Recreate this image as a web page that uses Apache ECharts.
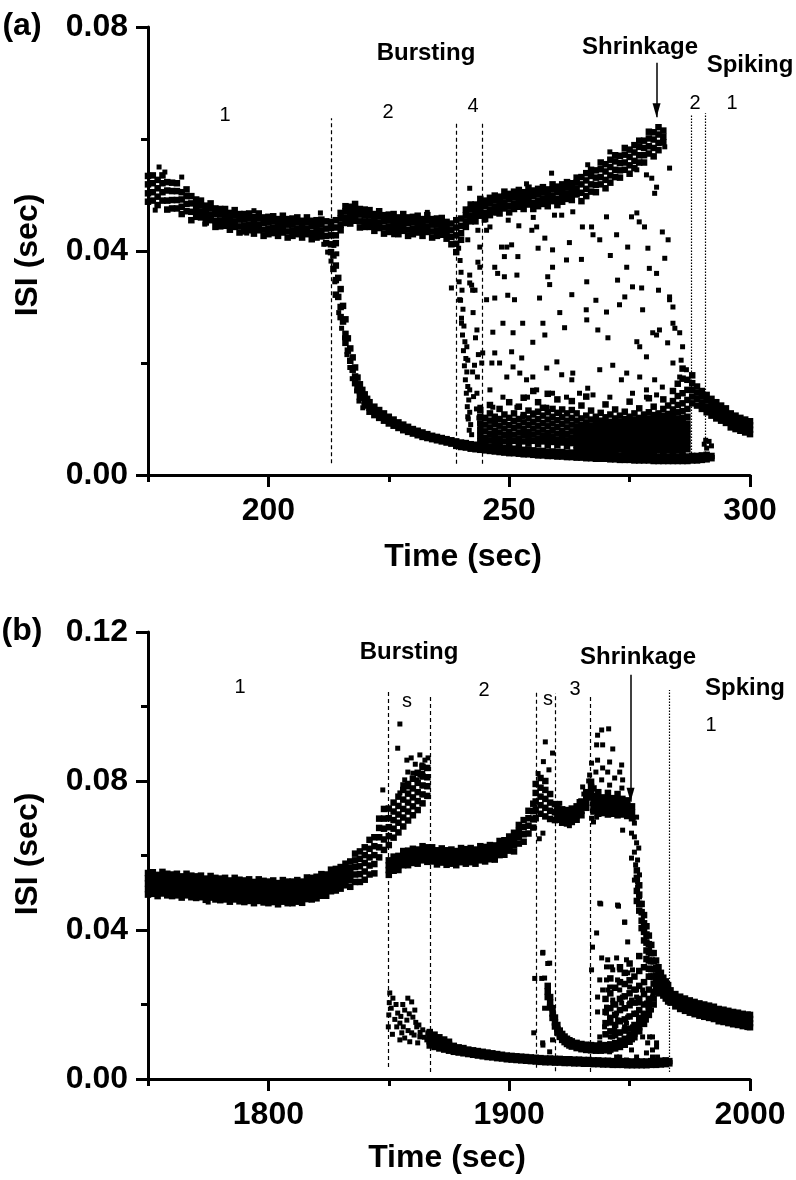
<!DOCTYPE html>
<html><head><meta charset="utf-8">
<script src="https://cdn.jsdelivr.net/npm/echarts@6/dist/echarts.min.js"></script>
<style>html,body{margin:0;padding:0;background:#fff}#c{width:796px;height:1180px}</style>
</head><body><div id="c"></div>
<script>
// ---------------- Panel (a): Time 175-300 s, ISI 0-0.08 s ----------------
// rows: [time, isi, isi, ...]
const aTonic = [
[175,.0488,.0503,.0519,.0534],[176,.0490,.0505,.0521,.0535],[177,.0482,.0497,.0512,.0527],[178,.0490,.0505,.0521,.0535],
[179,.0474,.0490,.0508,.0523],[180,.0476,.0491,.0507,.0522],[181,.0476,.0491,.0507,.0521],[182,.0466,.0479,.0492,.0505],
[183,.0471,.0484,.0498,.0510],[184,.0455,.0470,.0485,.0498],[185,.0461,.0471,.0482,.0492],[186,.0460,.0470,.0481,.0490],
[187,.0451,.0461,.0471,.0481],[188,.0455,.0465,.0476,.0485],[189,.0443,.0454,.0466,.0476],[190,.0444,.0454,.0465,.0475],
[191,.0445,.0455,.0466,.0475],[192,.0438,.0448,.0458,.0468],[193,.0443,.0453,.0464,.0473],[194,.0433,.0444,.0456,.0466],
[195,.0435,.0445,.0456,.0466],[196,.0437,.0447,.0458,.0467],[197,.0431,.0441,.0451,.0461],[198,.0437,.0447,.0458,.0467],
[199,.0427,.0438,.0450,.0460],[200,.0430,.0440,.0451,.0461],[201,.0432,.0442,.0453,.0462],[202,.0427,.0437,.0447,.0457],
[203,.0433,.0443,.0454,.0463],[204,.0424,.0435,.0447,.0457],[205,.0427,.0437,.0448,.0458],[206,.0430,.0440,.0451,.0460],
[207,.0424,.0434,.0444,.0454],[208,.0430,.0440,.0451,.0460],[209,.0421,.0432,.0444,.0454],[210,.0424,.0434,.0445,.0455],
[211,.0426,.0436,.0447,.0456],[212,.0414,.0427,.0440,.0453],[213,.0398,.0412,.0428,.0441,.0452],[214,.0414,.0428,.0442,.0455],
[215,.0437,.0447,.0458,.0468],[216,.0450,.0460,.0471,.0480],[217,.0449,.0459,.0469,.0479],[218,.0454,.0464,.0475,.0484],
[219,.0442,.0453,.0465,.0475],[220,.0443,.0453,.0464,.0474],[221,.0443,.0453,.0464,.0473],[222,.0436,.0446,.0456,.0466],
[223,.0441,.0451,.0462,.0471],[224,.0431,.0442,.0454,.0464],[225,.0434,.0444,.0455,.0465],[226,.0436,.0446,.0457,.0466],
[227,.0430,.0440,.0450,.0460],[228,.0436,.0446,.0457,.0466],[229,.0427,.0438,.0450,.0460],[230,.0430,.0440,.0451,.0461],
[231,.0433,.0443,.0454,.0463],[232,.0427,.0437,.0447,.0457],[233,.0434,.0444,.0455,.0464],[234,.0424,.0435,.0447,.0457],
[235,.0427,.0437,.0448,.0458],[236,.0429,.0439,.0450,.0459],[237,.0422,.0432,.0442,.0452],[238,.0412,.0425,.0437,.0449],
[239,.0398,.0413,.0428,.0442,.0455],[240,.0420,.0432,.0445,.0458],[241,.0443,.0453,.0464,.0474],[242,.0453,.0463,.0474,.0483],
[243,.0453,.0463,.0473,.0483],[244,.0463,.0473,.0484,.0493],[245,.0457,.0468,.0480,.0490],[246,.0464,.0474,.0485,.0495],
[247,.0469,.0479,.0490,.0499],[248,.0467,.0477,.0487,.0497],[249,.0476,.0486,.0497,.0506],[250,.0469,.0480,.0492,.0502],
[251,.0475,.0485,.0496,.0506],[252,.0479,.0489,.0500,.0509],[253,.0475,.0485,.0495,.0505],[254,.0483,.0493,.0504,.0513],
[255,.0475,.0486,.0498,.0508],[256,.0480,.0490,.0501,.0511],[257,.0484,.0494,.0505,.0514],[258,.0480,.0490,.0500,.0510],
[259,.0489,.0499,.0510,.0519],[260,.0482,.0493,.0505,.0515],[261,.0488,.0498,.0509,.0519],[262,.0493,.0503,.0514,.0523],
[263,.0491,.0501,.0511,.0521],[264,.0501,.0511,.0522,.0531],[265,.0489,.0504,.0519,.0532],[266,.0498,.0511,.0526,.0539],
[267,.0506,.0519,.0534,.0545],[268,.0505,.0518,.0531,.0544],[269,.0519,.0532,.0546,.0558],[270,.0512,.0527,.0542,.0555],
[271,.0522,.0535,.0550,.0563],[272,.0532,.0545,.0560,.0571],[273,.0531,.0544,.0557,.0570],[274,.0545,.0558,.0572,.0584],
[275,.0538,.0553,.0568,.0581],[276,.0548,.0561,.0576,.0589],[277,.0558,.0571,.0586,.0597],[278,.0558,.0571,.0584,.0597],
[279,.0574,.0587,.0601,.0613],[280,.0569,.0584,.0599,.0612],[281,.0580,.0593,.0608,.0621],[282,.0594,.0604,.0615]
];
const aBurstLow = [
[213.5,.0392,.0368],[214,.0374,.0348,.0322],[214.5,.0352,.0318],[215,.0332,.0300,.0282],[215.5,.0302,.0274],
[216,.0278,.0252,.0236],[216.5,.0244,.0222],[217,.0226,.0204],[217.5,.0210,.0188],[218,.0192,.0176,.0164],
[218.5,.0174,.0158],[219,.0162,.0150,.0140],[219.5,.0152,.0138],[220,.0144,.0132,.0124],[220.5,.0136,.0126],
[221,.0130,.0120,.0113],[222,.0122,.0114,.0107],[223,.0116,.0109,.0102],[224,.0110,.0103,.0097],[225,.0104,.0098,.0092],
[226,.0099,.0093,.0088],[227,.0094,.0089,.0084],[228,.0090,.0085,.0080],[229,.0086,.0081,.0077],[230,.0082,.0078,.0074],
[231,.0079,.0075,.0071],[232,.0076,.0072,.0068],[233,.0073,.0069,.0066],[234,.0070,.0067,.0064],[235,.0068,.0065,.0062],
[236,.0066,.0063,.0060],[237,.0064,.0061,.0058],[238,.0062,.0059,.0056],
[239,.0052,.0056,.0060],[240,.0050,.0054,.0058],[241,.0049,.0053,.0057],[242,.0047,.0051,.0055],[243,.0046,.0050,.0054],
[244,.0045,.0049,.0053],[245,.0044,.0048,.0052],[246,.0043,.0047,.0051],[247,.0042,.0046,.0050],[248,.0041,.0045,.0049],
[249,.0040,.0044,.0048],[250,.0039,.0043,.0047],[251,.0039,.0043,.0047],[252,.0038,.0042,.0046],[253,.0037,.0041,.0045],
[254,.0037,.0041,.0045],[255,.0036,.0040,.0044],[256,.0035,.0039,.0043],[257,.0035,.0039,.0043],[258,.0034,.0038,.0042],
[259,.0034,.0038,.0042],[260,.0033,.0037,.0041],[261,.0033,.0037,.0041],[262,.0032,.0036,.0040],[263,.0032,.0036,.0040],
[264,.0031,.0035,.0039],[265,.0031,.0035,.0039],[266,.0030,.0034,.0038],[267,.0030,.0034,.0038],[268,.0029,.0033,.0037],
[269,.0029,.0033,.0037],[270,.0029,.0033,.0037],[271,.0028,.0032,.0036],[272,.0028,.0032,.0036],[273,.0027,.0031,.0035],
[274,.0027,.0031,.0035],[275,.0027,.0031,.0035],[276,.0026,.0030,.0034],[277,.0026,.0030,.0034],[278,.0026,.0030,.0034],
[279,.0026,.0030,.0034],[280,.0025,.0029,.0033],[281,.0025,.0029,.0033],[282,.0025,.0029,.0033],[283,.0025,.0029,.0033],
[284,.0025,.0029,.0033],[285,.0025,.0029,.0033],[286,.0025,.0029,.0033],[287,.0025,.0029,.0033],[288,.0026,.0030,.0034],
[289,.0026,.0030,.0034],[290,.0027,.0031,.0035],[291,.0028,.0032,.0036],[292,.0030,.0034]
];
const aCloud = [
[244,.0060,.0070,.0080,.0092,.0104,.0116],[245,.0056,.0066,.0078,.0090,.0102],[246,.0062,.0073,.0085,.0097,.0110,.0125],
[247,.0058,.0068,.0079,.0091,.0104],[248,.0055,.0065,.0076,.0088,.0100,.0118],[249,.0060,.0071,.0083,.0095,.0108],
[250,.0056,.0066,.0077,.0089,.0102,.0130],[251,.0061,.0072,.0084,.0096,.0110],[252,.0055,.0065,.0076,.0088,.0100,.0122],
[253,.0060,.0071,.0082,.0094,.0107,.0138],[254,.0056,.0066,.0077,.0089,.0101,.0115],[255,.0061,.0072,.0083,.0095,.0108,.0150],
[256,.0055,.0065,.0076,.0088,.0100,.0113,.0130],[257,.0060,.0070,.0081,.0093,.0106,.0120],
[258,.0054,.0064,.0075,.0087,.0099,.0112,.0145],[259,.0059,.0069,.0080,.0092,.0104,.0118],
[260,.0053,.0063,.0074,.0086,.0098,.0111,.0135],[261,.0058,.0068,.0079,.0091,.0103,.0117],
[262,.0052,.0062,.0073,.0085,.0097,.0110],[263,.0057,.0067,.0078,.0090,.0102,.0116,.0132],
[264,.0045,.0053,.0061,.0069,.0077,.0086,.0097,.0110],[265,.0048,.0056,.0064,.0072,.0080,.0089,.0101,.0124],
[266,.0045,.0053,.0061,.0069,.0077,.0085,.0094,.0106,.0140],[267,.0047,.0055,.0063,.0071,.0079,.0088,.0099,.0115],
[268,.0044,.0052,.0060,.0068,.0076,.0084,.0093,.0104],[269,.0047,.0055,.0063,.0071,.0079,.0087,.0097,.0111],
[270,.0044,.0052,.0060,.0068,.0076,.0084,.0093,.0103,.0126],[271,.0046,.0054,.0062,.0070,.0078,.0086,.0095,.0108],
[272,.0043,.0051,.0059,.0067,.0075,.0083,.0092,.0101,.0117],[273,.0046,.0054,.0062,.0070,.0078,.0086,.0095,.0106],
[274,.0043,.0051,.0059,.0067,.0075,.0083,.0091,.0100,.0113],[275,.0045,.0053,.0061,.0069,.0077,.0085,.0094,.0104,.0131],
[276,.0043,.0051,.0059,.0067,.0075,.0083,.0091,.0099,.0110],[277,.0045,.0053,.0061,.0069,.0077,.0085,.0093,.0102,.0119],
[278,.0042,.0050,.0058,.0066,.0074,.0082,.0090,.0098,.0108],[279,.0045,.0053,.0061,.0069,.0077,.0085,.0093,.0101,.0112,.0137],
[280,.0042,.0050,.0058,.0066,.0074,.0082,.0090,.0098,.0107,.0122],[281,.0044,.0052,.0060,.0068,.0076,.0084,.0092,.0100,.0110],
[282,.0042,.0050,.0058,.0066,.0074,.0082,.0090,.0098,.0106,.0118,.0135],[283,.0044,.0052,.0060,.0068,.0076,.0084,.0092,.0100,.0109,.0124],
[284,.0042,.0050,.0058,.0066,.0074,.0082,.0090,.0098,.0107,.0117,.0132,.0150],
[285,.0044,.0052,.0060,.0068,.0076,.0084,.0092,.0101,.0112,.0125,.0141,.0163],
[286,.0043,.0051,.0059,.0067,.0075,.0083,.0092,.0102,.0114,.0128,.0146,.0172,.0190],
[287,.0046,.0055,.0064,.0073,.0082,.0092,.0104,.0118,.0134,.0152,.0170]
];
const aSpiking = [
[288,.0128,.0140,.0152,.0164,.0178],[289,.0124,.0136,.0147,.0158],[290,.0118,.0129,.0140,.0150],[291,.0112,.0122,.0133,.0143],
[292,.0106,.0116,.0126,.0136],[293,.0101,.0111,.0121,.0130],[294,.0097,.0106,.0115,.0124],[295,.0093,.0102,.0111,.0119],
[296,.0085,.0094,.0102,.0110],[297,.0082,.0090,.0098,.0106],[298,.0079,.0087,.0095,.0102],[299,.0076,.0084,.0092,.0099],
[300,.0073,.0081,.0089,.0096]
];
// single points: [time, isi]
const aScatter = [
[177.3,.0550],[176.5,.0473],[182,.0532],[178.5,.0541],[186.8,.0448],[195.5,.0432],[197,.0472],[211.5,.0412],[212.3,.0398],
[213,.0382],[210.8,.0468],[226,.0429],[233,.0469],
[213.6,.0410],[214.2,.0395],[213.8,.0345],[214.6,.0290],[215.2,.0262],[215.8,.0245],[216.3,.0215],[216.9,.0192],[217.4,.0172],
[218.3,.0150],[218.8,.0132],[219.6,.0120],
[239.5,.0405],[239.8,.0383],[240,.0362],[239.6,.0345],[240.2,.0330],[239.9,.0312],[240.4,.0296],[240.1,.0280],[240.6,.0266],
[240.3,.0250],[240.8,.0238],[240.5,.0222],[241,.0208],[240.7,.0195],[241.2,.0184],[240.9,.0170],[241.4,.0158],[241.1,.0146],
[241.6,.0134],[241.3,.0122],[241.8,.0112],[241.5,.0100],[242,.0090],[241.7,.0080],[242.2,.0072],[242.5,.0290],[243,.0245],
[242.8,.0196],[243.4,.0175],[242.6,.0140],[243.2,.0118],[243.7,.0102],[244,.0086],[242.9,.0330],[243.6,.0215],
[241.8,.0512],[241.4,.0420],[243.5,.0437],[243.9,.0407],[243.5,.0380],[243.9,.0371],[245.3,.0437],[246,.0443],[247.4,.0468],
[248.4,.0407],[249.5,.0407],[250.5,.0411],[249,.0390],[247,.0371],[247.6,.0360],[249,.0354],[251.6,.0357],[251.8,.0390],
[241.8,.0357],[241.8,.0343],[242.4,.0330],[253.6,.0520],[254.7,.0437],[255.7,.0443],[256,.0405],[257.4,.0423],[258.8,.0539],
[258,.0354],[258.4,.0340],[259,.0371],[259,.0402],[259.4,.0464],[260.9,.0464],[261.9,.0384],[263.2,.0470],[265.2,.0443],
[266.3,.0554],[267.1,.0443],[267.4,.0429],[268.8,.0420],[266.1,.0345],[270.2,.0461],[270.9,.0577],[272.3,.0429],[274.6,.0407],
[274.4,.0371],[275.4,.0461],[276.5,.0468],[277,.0452],[278.1,.0443],[276.5,.0545],[278.5,.0536],[279.6,.0530],[280.6,.0514],
[280.2,.0503],[281.8,.0434],[282.3,.0387],[279.1,.0369],[280.6,.0360],[283.3,.0548],[282.3,.0586],[275.6,.0336],[277.5,.0334],
[283.3,.0318],[272.5,.0348],[263,.0322],[268,.0312],[274,.0318],[281,.0330],[265,.0385],[271,.0392],[278.8,.0405],[283,.0420],
[262.5,.0415],[255,.0460],[252,.0445],[249.8,.0455],[244.8,.0455],
[238,.0334],[242.2,.0339],[239.7,.0313],[245.3,.0313],[247,.0316],[249.7,.0321],[251.1,.0313],[256.3,.0316],[260.5,.0290],
[266,.0295],[270.2,.0291],[272.9,.0304],[277.7,.0295],[240.1,.0271],[243.3,.0259],[246.6,.0255],[248.7,.0271],[250.8,.0254],
[252.8,.0271],[254.9,.0237],[257,.0271],[257.4,.0250],[261.5,.0263],[266.1,.0277],[268.4,.0259],[270.5,.0245],[276.5,.0238],
[279.8,.0254],[281.2,.0259],[283.3,.0313],[284,.0300],[284,.0271],[284.4,.0262],[277.1,.0229],[278.5,.0211],[280.6,.0250],
[282.9,.0236],[285.4,.0254],[286,.0229],[241.2,.0229],[241.4,.0205],[242.4,.0184],[244.3,.0200],[244.5,.0218],[247,.0218],
[246.4,.0200],[248,.0200],[250.5,.0220],[250.8,.0193],[252.6,.0209],[249.5,.0175],[252.2,.0182],[253.6,.0170],[254.9,.0175],
[257.8,.0191],[259.9,.0202],[260.9,.0179],[263,.0170],[263.2,.0182],[266.3,.0155],[268.8,.0188],[271.5,.0196],[274.4,.0182],
[273.3,.0170],[277.1,.0175],[278.5,.0152],[280.2,.0170],[281.8,.0157],[284,.0200],[285.4,.0175],[285.7,.0205],[286.8,.0188],
[241.8,.0152],[243.3,.0146],[246,.0152],[243.9,.0121],[246.6,.0121],[248.7,.0139],[251.6,.0121],[253.8,.0139],[255.7,.0152],
[259,.0146],[261.9,.0139],[264.6,.0146],[267.4,.0143],[270.9,.0139],[275.6,.0146],[278.5,.0139],[280.6,.0143],[241.4,.0104],
[243.9,.0093],[247,.0098],[250.8,.0098],[252.8,.0104],[254.9,.0111],[257.8,.0121],[260.5,.0111],
[290.5,.0055],[291,.0048],[291.5,.0060],[292,.0052],[290.8,.0062]
];
// phase boundaries: [time, isi bottom, isi top]
const aDashLines = [[213.0,.0021,.0637],[239.1,.0020,.0632],[244.5,.0020,.0630]];
const aDotLines = [[287.7,.0023,.0643],[290.8,.0023,.0646]];
const aArrow = [280.6,.0736,.0639];

// ---------------- Panel (b): Time 1750-2000 s, ISI 0-0.12 s ----------------
const bTonic = [
[1750,.0495,.0510,.0525,.0539,.0553],[1752,.0497,.0512,.0526,.0540,.0555],[1754,.0491,.0506,.0520,.0534,.0548],
[1756,.0498,.0513,.0528,.0542,.0556],[1758,.0493,.0508,.0523,.0537,.0551],[1760,.0491,.0506,.0521,.0535,.0549],
[1762,.0493,.0508,.0522,.0536,.0551],[1764,.0487,.0502,.0516,.0530,.0544],[1766,.0493,.0508,.0523,.0537,.0551],
[1768,.0488,.0503,.0518,.0532,.0546],[1770,.0486,.0501,.0516,.0530,.0544],[1772,.0488,.0503,.0517,.0531,.0546],
[1774,.0481,.0496,.0510,.0524,.0538],[1776,.0487,.0502,.0517,.0531,.0545],[1778,.0482,.0497,.0512,.0526,.0540],
[1780,.0480,.0495,.0510,.0524,.0538],[1782,.0482,.0497,.0511,.0525,.0540],[1784,.0476,.0491,.0505,.0519,.0533],
[1786,.0482,.0497,.0512,.0526,.0540],[1788,.0477,.0492,.0507,.0521,.0535],[1790,.0475,.0490,.0505,.0519,.0533],
[1792,.0478,.0493,.0507,.0521,.0536],[1794,.0472,.0487,.0501,.0515,.0529],[1796,.0478,.0493,.0508,.0522,.0536],
[1798,.0474,.0489,.0504,.0518,.0532],[1800,.0472,.0487,.0502,.0516,.0530],[1802,.0475,.0490,.0504,.0518,.0533],
[1804,.0469,.0484,.0498,.0512,.0526],[1806,.0476,.0491,.0506,.0520,.0534],[1808,.0472,.0487,.0502,.0516,.0530],
[1810,.0472,.0487,.0502,.0516,.0530],[1812,.0476,.0491,.0505,.0519,.0534],[1814,.0473,.0488,.0502,.0516,.0530],
[1816,.0483,.0498,.0513,.0527,.0541],[1818,.0482,.0497,.0512,.0526,.0540],[1820,.0485,.0500,.0515,.0529,.0543],
[1822,.0492,.0507,.0521,.0535,.0550],[1824,.0492,.0507,.0521,.0535,.0549],[1826,.0504,.0519,.0534,.0548,.0562],
[1828,.0506,.0521,.0536,.0550,.0564],[1830,.0511,.0526,.0541,.0555,.0569],[1832,.0520,.0535,.0549,.0563,.0578],
[1834,.0516,.0534,.0550,.0567,.0584],[1836,.0529,.0549,.0569,.0587,.0605],[1838,.0529,.0550,.0571,.0591,.0611],
[1840,.0535,.0557,.0580,.0601,.0622],[1842,.0549,.0573,.0595,.0618,.0642],[1844,.0552,.0577,.0601,.0625,.0649],
[1846,.0595,.0622,.0649,.0674,.0699],[1848,.0615,.0643,.0672,.0699,.0725]
];
const bBurstS1 = [
[1850,.0628,.0652,.0676,.0700,.0726],[1852,.0648,.0672,.0695,.0718,.0742],[1854,.0662,.0688,.0710,.0733,.0758],
[1856,.0678,.0702,.0725,.0750,.0776],[1858,.0694,.0718,.0742,.0766,.0792],[1860,.0708,.0732,.0756,.0780,.0806],
[1862,.0722,.0746,.0770,.0795,.0822],[1864,.0740,.0764,.0788,.0812,.0838],[1866,.0760,.0786,.0810,.0835]
];
const bBurst2 = [
[1850,.0548,.0561,.0574,.0587],[1852,.0559,.0572,.0585,.0597],[1854,.0561,.0574,.0587,.0599],[1856,.0574,.0587,.0600,.0612],
[1858,.0574,.0587,.0600,.0613],[1860,.0580,.0593,.0606,.0618],[1862,.0578,.0591,.0604,.0616],[1864,.0587,.0600,.0613,.0625],
[1866,.0583,.0596,.0609,.0622],[1868,.0584,.0597,.0610,.0622],[1870,.0576,.0589,.0602,.0614],[1872,.0581,.0594,.0607,.0619],
[1874,.0575,.0588,.0601,.0614],[1876,.0578,.0591,.0604,.0616],[1878,.0574,.0587,.0600,.0612],[1880,.0582,.0595,.0608,.0620],
[1882,.0578,.0591,.0604,.0617],[1884,.0582,.0595,.0608,.0620],[1886,.0578,.0591,.0604,.0616],[1888,.0587,.0600,.0613,.0625],
[1890,.0584,.0597,.0610,.0623],[1892,.0590,.0603,.0616,.0628],[1894,.0589,.0602,.0615,.0627],[1896,.0601,.0614,.0627,.0639],
[1898,.0602,.0615,.0628,.0641],[1900,.0613,.0626,.0639,.0651],[1902,.0611,.0628,.0645,.0661],[1904,.0632,.0649,.0666,.0682],
[1906,.0637,.0657,.0676,.0695],[1908,.0659,.0680,.0700,.0720],[1910,.0675,.0697,.0719,.0739]
];
const bBurstS2 = [
[1911,.0700,.0722,.0745,.0768,.0792],[1913,.0712,.0735,.0758,.0782,.0808],[1915,.0705,.0728,.0752,.0776,.0800],
[1917,.0698,.0720,.0742,.0765],[1919,.0695,.0716,.0738]
];
const bBurst3 = [
[1920,.0696,.0708,.0720,.0732],[1922,.0688,.0700,.0712,.0724],[1924,.0686,.0698,.0710,.0722],[1926,.0690,.0702,.0714,.0726],
[1928,.0696,.0708,.0720,.0732],[1930,.0708,.0720,.0732,.0745],[1932,.0728,.0742,.0756,.0770],[1934,.0756,.0770,.0784,.0798],
[1935,.0718,.0732,.0746,.0760,.0780],[1937,.0712,.0726,.0740,.0754,.0770],[1939,.0714,.0728,.0742,.0756],
[1941,.0710,.0724,.0738,.0752,.0768],[1943,.0712,.0726,.0740,.0754],[1945,.0708,.0722,.0736,.0750,.0765],
[1947,.0710,.0724,.0738,.0752],[1949,.0706,.0720,.0734,.0748],[1951,.0700,.0716,.0732]
];
const bShrink = [
[1953,.0560,.0540,.0505,.0478],[1954,.0520,.0495,.0470,.0452],[1955,.0470,.0448,.0425,.0405],[1956,.0440,.0418,.0395,.0372],
[1957,.0410,.0388,.0366,.0345,.0322],[1958,.0385,.0362,.0340,.0318,.0296],[1959,.0360,.0338,.0316,.0295,.0275],
[1960,.0338,.0316,.0295,.0275,.0256],[1961,.0318,.0298,.0278,.0260,.0242],[1962,.0300,.0281,.0263,.0246,.0230],
[1963,.0285,.0267,.0250,.0234],[1964,.0272,.0255,.0239,.0224],[1965,.0262,.0245,.0230,.0216],[1966,.0252,.0237,.0222,.0208]
];
const bSpiking = [
[1967,.0205,.0216,.0227,.0238],[1969,.0195,.0206,.0217,.0228],[1971,.0188,.0199,.0210,.0221],[1973,.0183,.0194,.0205,.0216],
[1975,.0178,.0189,.0200,.0211],[1977,.0174,.0185,.0196,.0207],[1979,.0170,.0181,.0192,.0203],[1981,.0167,.0178,.0189,.0200],
[1983,.0164,.0175,.0186,.0197],[1985,.0161,.0172,.0183,.0194],[1987,.0155,.0166,.0177,.0188],[1989,.0153,.0164,.0175,.0186],
[1991,.0150,.0161,.0172,.0183],[1993,.0147,.0158,.0169,.0180],[1995,.0145,.0156,.0167,.0178],[1997,.0142,.0153,.0164,.0175],
[1999,.0140,.0151,.0162,.0173],[2000,.0139,.0150,.0161,.0172]
];
const bBurstLow = [
[1867,.0090,.0102,.0114,.0126],[1869,.0086,.0097,.0108,.0119],[1871,.0082,.0092,.0102,.0112],[1873,.0079,.0088,.0097,.0106],
[1875,.0076,.0084,.0092,.0100],[1877,.0073,.0081,.0089],[1879,.0071,.0078,.0085],[1881,.0069,.0076,.0083],[1883,.0067,.0073,.0079],
[1885,.0065,.0071,.0077],[1887,.0063,.0069,.0075],[1889,.0061,.0067,.0073],[1891,.0059,.0065,.0071],[1893,.0058,.0063,.0069],
[1895,.0056,.0062,.0067],[1897,.0055,.0060,.0065],[1899,.0053,.0058,.0063],[1901,.0052,.0057,.0062],[1903,.0051,.0056,.0061],
[1905,.0050,.0055,.0060],[1907,.0049,.0054,.0059],[1909,.0048,.0053,.0058],[1911,.0047,.0052,.0057],[1913,.0046,.0051,.0056],
[1915,.0045,.0050,.0055],[1917,.0045,.0050,.0055],[1919,.0044,.0049,.0054],[1921,.0044,.0049,.0054],[1923,.0043,.0048,.0053],
[1925,.0043,.0048,.0053],[1927,.0042,.0047,.0052],[1929,.0042,.0047,.0052],[1931,.0041,.0046,.0051],[1933,.0041,.0046,.0051],
[1935,.0040,.0045,.0050],[1937,.0040,.0045,.0050],[1939,.0039,.0044,.0049],[1941,.0039,.0044,.0049],[1943,.0038,.0043,.0048],
[1945,.0038,.0043,.0048],[1947,.0038,.0043,.0048],[1949,.0037,.0042,.0047],[1951,.0037,.0042,.0047],[1953,.0037,.0042,.0047],
[1955,.0037,.0042,.0047],[1957,.0037,.0042,.0047],[1959,.0038,.0043,.0048],[1961,.0038,.0043,.0048],[1963,.0039,.0044,.0049],
[1965,.0040,.0045,.0050],[1966.5,.0042,.0048]
];
const bBurstU = [
[1916,.0250,.0235,.0220],[1917,.0220,.0205,.0192],[1918,.0190,.0176,.0164],[1919,.0165,.0152,.0141],[1920,.0145,.0134,.0125],
[1921,.0130,.0121,.0113],[1922,.0121,.0112,.0105],[1923,.0114,.0106,.0099],[1924,.0108,.0101,.0094],[1925,.0104,.0097,.0090],
[1926,.0101,.0094,.0087],[1928,.0097,.0090,.0083],[1930,.0094,.0087,.0080],[1932,.0092,.0085,.0078],[1934,.0091,.0084,.0077],
[1936,.0090,.0083,.0076],[1938,.0090,.0083,.0076],[1940,.0091,.0084,.0077],[1942,.0093,.0086,.0079],[1944,.0096,.0089,.0082],
[1946,.0101,.0093,.0086],[1948,.0108,.0100,.0092],[1950,.0118,.0109,.0100],[1952,.0132,.0122,.0112],[1954,.0150,.0139,.0128],
[1956,.0174,.0160,.0148],[1958,.0202,.0186,.0172],[1960,.0234,.0216,.0200]
];
const bCloud = [
[1940,.0120,.0150,.0180,.0215],[1942,.0128,.0160,.0190,.0230,.0270],[1944,.0118,.0145,.0172,.0200,.0245],
[1946,.0125,.0155,.0185,.0215,.0260,.0300],[1948,.0130,.0160,.0190,.0222,.0255,.0285],[1950,.0135,.0168,.0198,.0230,.0265,.0310],
[1952,.0145,.0175,.0205,.0240,.0275],[1954,.0160,.0185,.0215,.0250,.0290,.0330],[1956,.0175,.0200,.0228,.0260,.0300],
[1958,.0195,.0215,.0240,.0275]
];
const bScatter = [
[1775,.0475],[1847.5,.0776],[1854.6,.0953],[1853.7,.0888],[1857.5,.0856],[1857.9,.0824],[1860,.0821],[1862.9,.0870],
[1865,.0856],[1862.9,.0816],[1864.1,.0821],[1856.6,.0803],[1861.6,.0803],[1858,.0784],[1854.6,.0768],[1859.3,.0862],
[1863.8,.0843],[1861,.0845],[1866.3,.0862],[1855.8,.0790],
[1850.4,.0231],[1851.7,.0217],[1850,.0172],[1853.7,.0177],[1854.6,.0150],[1855.4,.0124],[1856.6,.0185],[1857.9,.0217],
[1859.5,.0207],[1857.5,.0158],[1860,.0166],[1861.6,.0140],[1859.5,.0124],[1862.9,.0113],[1864.1,.0132],[1865.8,.0105],
[1866.2,.0124],[1856.6,.0110],[1854.6,.0105],[1853.3,.0140],[1862,.0097],[1858.7,.0100],[1850.2,.0205],[1851,.0190],
[1852.5,.0160],[1855,.0168],[1856,.0140],[1858,.0130],[1860.5,.0118],[1861.2,.0152],[1863,.0125],[1864.8,.0112],
[1866.8,.0098],[1851.5,.0120],[1849.8,.0140],[1853,.0200],[1855.8,.0200],[1858.5,.0175],[1860.8,.0185],[1862.5,.0145],
[1915,.0905],[1918,.0875],[1914,.0660],[1912.5,.0645],[1916.5,.0830],[1914.2,.0852],[1912,.0820],
[1921,.0740],[1925,.0680],[1929,.0745],[1931,.0765],[1933,.0800],
[1938.4,.0937],[1941.3,.0940],[1936.7,.0923],[1938.8,.0897],[1936.3,.0897],[1943,.0886],[1936.7,.0856],[1941.7,.0851],
[1934.2,.0848],[1946.7,.0843],[1938.8,.0835],[1936,.0824],[1940.9,.0824],[1943.8,.0808],[1945.9,.0824],[1933.4,.0816],
[1938.4,.0803],[1941.7,.0789],[1947.1,.0803],[1930.5,.0784],[1946.8,.0781],[1934.2,.0700],[1936.3,.0703],[1935,.0690],
[1947.1,.0668],
[1950.8,.0660],[1952,.0687],[1952.9,.0703],[1952,.0650],[1952.9,.0634],[1952,.0609],[1950.8,.0593],[1953.3,.0588],
[1954.1,.0548],[1953.3,.0529],[1952,.0534],[1953.3,.0515],[1954.1,.0489],[1955,.0446],[1956.2,.0400],[1957,.0381],
[1958.3,.0346],[1959.5,.0320],[1961.6,.0293],[1963.7,.0266],[1965.3,.0247],[1951.5,.0700],[1950,.0715],[1953.8,.0620],
[1952.5,.0575],
[1913.9,.0338],[1916.8,.0311],[1914.7,.0271],[1914.7,.0190],[1913.9,.0097],[1916.8,.0073],[1918,.0105],[1910.6,.0270],
[1910.2,.0124],[1914,.0340],[1913.5,.0270],[1916,.0310],[1914,.0091],
[1938,.0470],[1945.4,.0464],[1947.9,.0421],[1936.3,.0392],[1949.2,.0368],[1934.6,.0354],[1938.4,.0325],[1940.9,.0320],
[1944.6,.0325],[1942.5,.0301],[1948.7,.0320],[1945.9,.0293],[1934.2,.0293],[1937.6,.0266],[1940.4,.0266],[1945,.0266],
[1949.2,.0285],[1938.8,.0239],[1941.7,.0247],[1945.9,.0239],[1950,.0247],[1952.9,.0239],[1936.7,.0220],[1936.7,.0180],
[1940.4,.0193],[1943,.0212],[1946.7,.0204],[1950.8,.0212],[1954.1,.0204],[1941.7,.0166],[1945,.0158],[1949.2,.0166],
[1952.9,.0177],[1939.6,.0140],[1943.8,.0132],[1947.9,.0140],[1954.1,.0132],[1957,.0158],[1937.6,.0113],[1942,.0113],
[1946,.0123],[1958.3,.0113],[1939.6,.0083],[1957.5,.0097],[1961.2,.0086],[1950.8,.0078],[1944.6,.0059],[1948.7,.0051],
[1952.9,.0059],[1957,.0070],[1959.5,.0059],[1937.6,.0472],[1945,.0467],[1940.4,.0301],[1943,.0293],[1948,.0421],
[1951.2,.0293],[1940.9,.0239],[1943,.0204],[1944.6,.0177],[1947,.0220],[1950,.0204],[1952.9,.0220],[1955.4,.0239],
[1957,.0204],[1959.1,.0185],[1959.5,.0220],[1940.4,.0177],[1941.7,.0150],[1945.9,.0158],[1948.7,.0150],[1951.2,.0140],
[1954.1,.0166],[1943,.0113],[1945.9,.0105],[1951.2,.0105],[1955.4,.0113],[1959.5,.0113],[1961.2,.0097],[1937.6,.0097],
[1941.7,.0073],[1945.9,.0059],[1961.6,.0059],[1959.5,.0078]
];
const bDashLines = [[1849.6,.0032,.1044],[1867.4,.0019,.1031],[1911.4,.0030,.1044],[1919.3,.0021,.1036],[1933.8,.0019,.1031]];
const bDotLines = [[1966.6,.0019,.1044]];
const bArrow = [1950.4,.1085,.0744];

// axis ticks / labels
const aXRange = [175, 300], aXLabels = [200, 250, 300], aXMinor = [175, 225, 275];
const bXRange = [1750, 2000], bXLabels = [1800, 1900, 2000], bXMinor = [1750, 1850, 1950];
const aYMax = 0.08, bYMax = 0.12, yStep = 0.04;

// ---------------- chart ----------------
const FONT = "'Liberation Sans', Arial, Helvetica, sans-serif";
function expand(rows) { const out = []; rows.forEach(r => { for (let i = 1; i < r.length; i++) out.push([r[0], r[i]]); }); return out; }
function vLines(list, dash) {
  return list.map(d => [{ coord: [d[0], d[1]], lineStyle: { type: dash, width: 1.2, color: '#000' } }, { coord: [d[0], d[2]] }]);
}
const tickStyle = { color: '#000', width: 3 };
function xMain(g, r, labels) {
  return { type: 'value', gridIndex: g, min: r[0], max: r[1], position: 'bottom',
    axisLine: { show: true, onZero: false, lineStyle: tickStyle },
    axisTick: { show: true, customValues: labels, length: 12, lineStyle: tickStyle },
    axisLabel: { customValues: labels, margin: 20, color: '#000', fontFamily: FONT, fontWeight: 'bold', fontSize: 32, formatter: v => String(v) },
    splitLine: { show: false } };
}
function xMinor(g, r, ticks) {
  return { type: 'value', gridIndex: g, min: r[0], max: r[1], position: 'bottom',
    axisLine: { show: false, onZero: false }, axisTick: { show: true, customValues: ticks, length: 7, lineStyle: tickStyle },
    axisLabel: { show: false }, splitLine: { show: false } };
}
function yAx(g, max) {
  return { type: 'value', gridIndex: g, min: 0, max: max, interval: yStep,
    axisLine: { show: true, onZero: false, lineStyle: tickStyle },
    axisTick: { show: true, length: 12, lineStyle: tickStyle },
    minorTick: { show: true, splitNumber: 2, length: 7, lineStyle: tickStyle },
    axisLabel: { margin: 20, color: '#000', fontFamily: FONT, fontWeight: 'bold', fontSize: 32, formatter: v => v.toFixed(2) },
    splitLine: { show: false }, minorSplitLine: { show: false } };
}
function dense(xi, yi, data) {
  return { type: 'scatter', xAxisIndex: xi, yAxisIndex: yi, data: data, symbol: 'rect', symbolSize: 6.5,
    itemStyle: { color: '#000', opacity: 1 }, silent: true, progressive: 0, animation: false };
}
function sparse(xi, yi, data, dashes, dots, arrow) {
  return { type: 'scatter', xAxisIndex: xi, yAxisIndex: yi, data: data, symbol: 'rect', symbolSize: 5,
    itemStyle: { color: '#000', opacity: 1 }, silent: true, progressive: 0, animation: false,
    markLine: { silent: true, symbol: ['none', 'none'], label: { show: false }, animation: false,
      data: vLines(dashes, [4, 3]).concat(vLines(dots, [1.5, 1.5])).concat([[
        { coord: [arrow[0], arrow[1]], lineStyle: { type: 'solid', width: 1.5, color: '#000' } }, { coord: [arrow[0], arrow[2]] }]]) },
    markPoint: { silent: true, animation: false, symbol: 'triangle', symbolSize: [8, 14], symbolRotate: 180,
      itemStyle: { color: '#000', opacity: 1 }, label: { show: false },
      data: [{ coord: [arrow[0], arrow[2]], symbolOffset: [0, -7] }] } };
}
function txt(s, x, y, font, rot) {
  return { type: 'text', x: x, y: y, rotation: rot || 0, silent: true,
    style: { text: s, fill: '#000', font: font + ' ' + FONT, align: 'center', verticalAlign: 'middle' } };
}
const chart = echarts.init(document.getElementById('c'), null, { renderer: 'canvas' });
chart.setOption({
  animation: false,
  backgroundColor: '#fff',
  grid: [{ left: 148, top: 27, width: 602, height: 448 }, { left: 148, top: 632, width: 602, height: 447 }],
  xAxis: [xMain(0, aXRange, aXLabels), xMinor(0, aXRange, aXMinor), xMain(1, bXRange, bXLabels), xMinor(1, bXRange, bXMinor)],
  yAxis: [yAx(0, aYMax), yAx(1, bYMax)],
  series: [
    dense(0, 0, expand(aTonic).concat(expand(aBurstLow), expand(aCloud), expand(aSpiking))),
    sparse(0, 0, aScatter, aDashLines, aDotLines, aArrow),
    dense(2, 1, expand(bTonic).concat(expand(bBurstS1), expand(bBurst2), expand(bBurstS2), expand(bBurst3),
      expand(bShrink), expand(bSpiking), expand(bBurstLow), expand(bBurstU), expand(bCloud))),
    sparse(2, 1, bScatter, bDashLines, bDotLines, bArrow)
  ],
  graphic: [
    txt('(a)', 22, 26, 'bold 32px'),
    txt('ISI (sec)', 28, 255, 'bold 32px', Math.PI / 2),
    txt('Time (sec)', 463, 557, 'bold 32px'),
    txt('Bursting', 426, 53, 'bold 24px'),
    txt('Shrinkage', 640, 47, 'bold 24px'),
    txt('Spiking', 750, 65, 'bold 24px'),
    txt('1', 225, 115, '20px'), txt('2', 388, 112, '20px'), txt('4', 473, 106, '20px'),
    txt('2', 695, 103, '20px'), txt('1', 732, 103, '20px'),
    txt('(b)', 22, 631, 'bold 32px'),
    txt('ISI (sec)', 28, 854, 'bold 32px', Math.PI / 2),
    txt('Time (sec)', 447, 1158, 'bold 32px'),
    txt('Bursting', 409, 652, 'bold 24px'),
    txt('Shrinkage', 638, 657, 'bold 24px'),
    txt('Spking', 745, 688, 'bold 24px'),
    txt('1', 240, 687, '20px'), txt('s', 407, 701, '20px'), txt('2', 484, 690, '20px'),
    txt('s', 548, 699, '20px'), txt('3', 575, 689, '20px'), txt('1', 711, 725, '20px')
  ]
});
</script></body></html>
